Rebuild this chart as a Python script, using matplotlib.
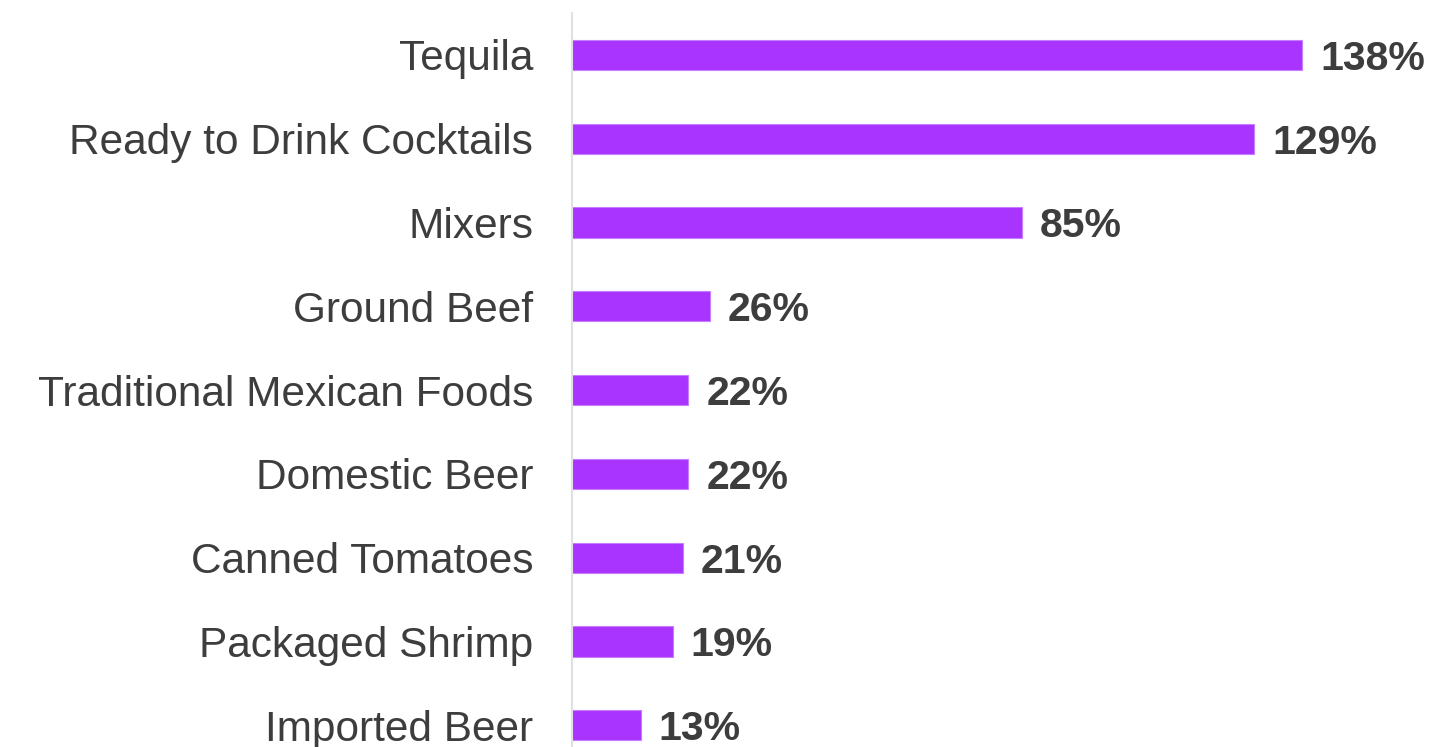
import matplotlib.pyplot as plt

categories = ["Tequila", "Ready to Drink Cocktails", "Mixers", "Ground Beef",
              "Traditional Mexican Foods", "Domestic Beer", "Canned Tomatoes",
              "Packaged Shrimp", "Imported Beer"]
values = [138, 129, 85, 26, 22, 22, 21, 19, 13]

plt.rcParams['font.family'] = ['Liberation Sans', 'DejaVu Sans']

fig = plt.figure(figsize=(14.3, 7.47), dpi=100)
ax = fig.add_axes([0.4, 0.0, 0.6, 1 - 13 / 747])

y = list(range(len(categories)))
ax.barh(y, values, height=0.36, color='#A933FF', edgecolor='#C77DFF', linewidth=0.8)

for yi, v in zip(y, values):
    ax.text(v + 3.4, yi, f"{v}%", va='center_baseline', ha='left', fontsize=29.5,
            fontweight='bold', color='#3d3d3d')

ax.set_yticks(y)
ax.set_yticklabels(categories, fontsize=30.5, color='#3d3d3d')
ax.tick_params(axis='y', length=0, pad=28)
ax.set_xticks([])
ax.set_xlim(0, 162.2)
ax.set_ylim(8.26, -0.5)

for s in ['top', 'right', 'bottom']:
    ax.spines[s].set_visible(False)
ax.spines['left'].set_color('#e0e0e0')
ax.spines['left'].set_linewidth(1.5)

fig.savefig('out.png', dpi=100)
